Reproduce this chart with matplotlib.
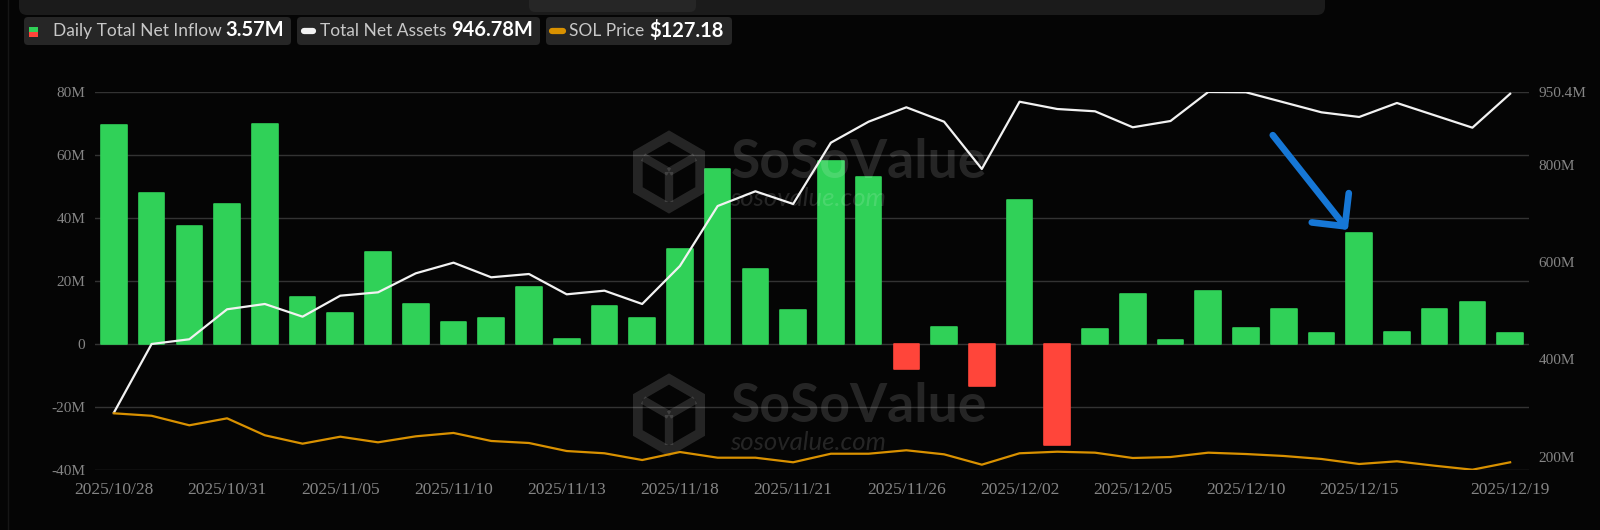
import matplotlib
matplotlib.use('Agg')
import matplotlib.pyplot as plt
from matplotlib.patches import FancyBboxPatch, Rectangle, RegularPolygon
import numpy as np

# trading days shown on the category axis
dates = ['2025/10/28', '2025/10/29', '2025/10/30', '2025/10/31',
         '2025/11/03', '2025/11/04', '2025/11/05', '2025/11/06', '2025/11/07',
         '2025/11/10', '2025/11/11', '2025/11/12', '2025/11/13', '2025/11/14',
         '2025/11/17', '2025/11/18', '2025/11/19', '2025/11/20', '2025/11/21',
         '2025/11/24', '2025/11/25', '2025/11/26', '2025/11/28',
         '2025/12/01', '2025/12/02', '2025/12/03', '2025/12/04', '2025/12/05',
         '2025/12/08', '2025/12/09', '2025/12/10', '2025/12/11', '2025/12/12',
         '2025/12/15', '2025/12/16', '2025/12/17', '2025/12/18', '2025/12/19']

# daily total net inflow, $M
inflow = [69.5, 47.9, 37.5, 44.5, 70.0, 14.8, 9.7, 29.3, 12.8, 6.9, 8.1, 18.1,
          1.5, 12.1, 8.4, 30.1, 55.7, 23.7, 10.7, 58.1, 53.1, -7.9, 5.4, -13.3,
          45.8, -32.0, 4.7, 15.8, 1.3, 16.7, 5.0, 11.1, 3.6, 35.2, 3.7, 11.1,
          13.3, 3.57]

# total net assets, $M
assets = [290.5, 431.9, 441.6, 503.3, 514.2, 488.1, 531.3, 538.2, 577.3, 599.2,
          569.1, 575.9, 534.1, 541.6, 514.2, 592.4, 715.8, 746.1, 720.0, 846.1,
          889.3, 918.9, 889.3, 792.0, 930.4, 915.4, 910.7, 877.8, 890.7, 950.4,
          949.8, 929.2, 908.6, 899.0, 927.8, 902.4, 877.0, 946.78]

# SOL price, $
sol = [192.5, 189.2, 176.5, 185.8, 163.2, 152.0, 161.3, 153.8, 161.8, 166.3,
       155.6, 152.9, 142.2, 139.2, 130.2, 140.9, 133.3, 133.3, 127.2, 138.6,
       138.6, 143.2, 137.8, 124.0, 139.2, 141.3, 140.0, 132.9, 134.2, 140.0,
       138.2, 135.6, 131.6, 124.9, 128.5, 122.6, 117.3, 127.18]

tick_idx = [0, 3, 6, 9, 12, 15, 18, 21, 24, 27, 30, 33, 37]
left_ticks = [-40, -20, 0, 20, 40, 60, 80]
left_labels = ['-40M', '-20M', '0', '20M', '40M', '60M', '80M']
right_ticks = [200, 400, 600, 800, 950.4]
right_labels = ['200M', '400M', '600M', '800M', '950.4M']

BG = '#050505'
GREEN = '#30d158'
RED = '#ff453a'
ORANGE = '#d99100'
GRID = '#333333'
TICK = '#858585'
W, H = 1600, 530

fig = plt.figure(figsize=(16, 5.3), dpi=100, facecolor=BG)

ax = fig.add_axes([95 / W, 1 - 470 / H, (1529 - 95) / W, (470 - 92) / H])
ax.set_facecolor(BG)
x = np.arange(len(dates))
cols = [GREEN if v >= 0 else RED for v in inflow]
bars = ax.bar(x, inflow, width=0.68, color=cols, zorder=2)
# soften the bar corners a little, like the web chart
for r in bars:
    r.set_joinstyle('round')
    r.set_edgecolor(r.get_facecolor())
    r.set_linewidth(1.2)
ax.set_xlim(-0.5, len(dates) - 0.5)
ax.set_ylim(-40, 80)
ax.set_yticks(left_ticks)
ax.set_yticklabels(left_labels, family='Liberation Serif', fontsize=11)
ax.set_xticks(tick_idx)
ax.set_xticklabels([dates[i] for i in tick_idx], family='Liberation Serif', fontsize=12.5)
ax.yaxis.grid(True, color=GRID, lw=1)
ax.set_axisbelow(True)
for s in ax.spines.values():
    s.set_visible(False)
ax.tick_params(axis='y', length=0, pad=7, colors=TICK)
ax.tick_params(axis='x', length=0, pad=9, colors=TICK)

# blue arrow pointing at the 12/15 bar
ax.annotate('', xy=(32.70, 36.2), xytext=(30.71, 66.3),
            arrowprops=dict(arrowstyle='->,head_length=0.85,head_width=0.85',
                            color='#1677d6', lw=4.8, mutation_scale=20,
                            shrinkA=0, shrinkB=0, capstyle='round',
                            joinstyle='round'), zorder=8)

ax2 = ax.twinx()
ax2.plot(x, assets, color='#f2f2f2', lw=1.6, zorder=3)
ax2.set_ylim(172.6, 950.4)
ax2.set_yticks(right_ticks)
ax2.set_yticklabels(right_labels, family='Liberation Serif', fontsize=11)
ax2.tick_params(axis='y', length=0, pad=7, colors=TICK)
for s in ax2.spines.values():
    s.set_visible(False)

ax3 = ax.twinx()
ax3.plot(x, sol, color=ORANGE, lw=1.6, zorder=3)
ax3.set_ylim(116.9, 620.9)
ax3.axis('off')

ax.set_zorder(0)
ax2.set_zorder(1)
ax3.set_zorder(2)
ax2.patch.set_visible(False)
ax3.patch.set_visible(False)

# overlay in pixel coordinates for legend chips and watermark
ov = fig.add_axes([0, 0, 1, 1], zorder=0.5)
ov.set_xlim(0, W)
ov.set_ylim(H, 0)
ov.axis('off')
ov.patch.set_visible(False)

# top panel strip
ov.add_patch(FancyBboxPatch((19, -30), 1306, 45, boxstyle='round,pad=0,rounding_size=8',
                            fc='#1b1b1b', ec='none'))
ov.add_patch(FancyBboxPatch((529, -20), 167, 32, boxstyle='round,pad=0,rounding_size=6',
                            fc='#262626', ec='none'))
ov.plot([8, 8], [0, H], color='#161616', lw=1)

chips = [(24, 291), (297, 540), (546, 732)]
for a, b in chips:
    ov.add_patch(FancyBboxPatch((a, 17), b - a, 28, boxstyle='round,pad=0,rounding_size=4',
                                fc='#262626', ec='none'))
ov.add_patch(Rectangle((29, 26.5), 9, 5, fc=GREEN, ec='none'))
ov.add_patch(Rectangle((29, 31.5), 9, 5, fc=RED, ec='none'))
ov.plot([304, 313], [31, 31], color='#f2f2f2', lw=4.5, solid_capstyle='round')
ov.plot([552, 563], [31, 31], color=ORANGE, lw=4.5, solid_capstyle='round')

lf = dict(family='Lato', va='center', ha='left')
ov.text(53, 31, 'Daily Total Net Inflow', color='#c8c8c8', fontsize=12.5, **lf)
ov.text(225, 30.5, '3.57M', color='white', fontsize=14.5, fontweight='bold', **lf)
ov.text(320, 31, 'Total Net Assets', color='#c8c8c8', fontsize=12.5, **lf)
ov.text(451, 30.5, '946.78M', color='white', fontsize=14.5, fontweight='bold', **lf)
ov.text(569, 31, 'SOL Price', color='#c8c8c8', fontsize=12.5, **lf)
ov.text(649, 30.5, '$127.18', color='white', fontsize=14.5, fontweight='bold', **lf)

# watermark (twice)
wm = (1, 1, 1, 0.13)
for dy in (0, 243):
    cx, cy = 669, 172 + dy
    ov.add_patch(RegularPolygon((cx, cy), 6, radius=36, orientation=0,
                                fc='none', ec=wm, lw=7))
    for ang in (90, 210, 330):
        t = np.deg2rad(ang)
        ov.plot([cx, cx + 30 * np.cos(t)], [cy, cy + 30 * np.sin(t)],
                color=wm, lw=6, solid_capstyle='butt')
    ov.text(731, 163 + dy, 'SoSoValue', color=wm, fontsize=38.5, fontweight='bold',
            family='Lato', va='center', ha='left')
    ov.text(730, 199 + dy, 'sosovalue.com', color=wm, fontsize=18.5, style='italic',
            family='Lato', va='center', ha='left')

fig.savefig('out.png', dpi=100, facecolor=BG)
